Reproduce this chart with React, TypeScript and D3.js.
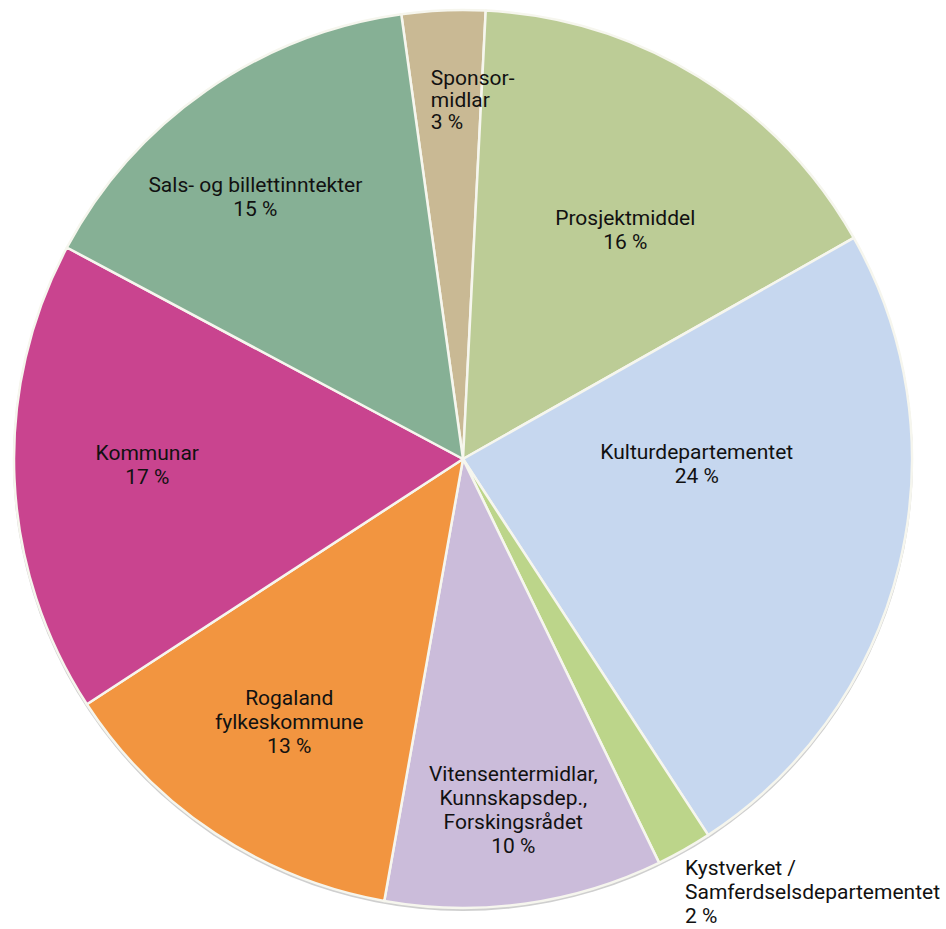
import React, { useEffect, useRef } from 'react';
import * as d3 from 'd3';

// slices in clockwise order, starting with the small one at the top
const labels = [
  'Sponsor-midlar',
  'Prosjektmiddel',
  'Kulturdepartementet',
  'Kystverket / Samferdselsdepartementet',
  'Vitensentermidlar, Kunnskapsdep., Forskingsrådet',
  'Rogaland fylkeskommune',
  'Kommunar',
  'Sals- og billettinntekter',
];
const values = [3, 16, 24, 2, 10, 13, 17, 15];
const colors = ['#c9b994', '#bccc96', '#c6d7ef', '#bcd58a', '#cbbcda', '#f29540', '#c9448f', '#86b095'];

// how each label is broken into lines
const labelLines = [
  ['Sponsor-', 'midlar'],
  ['Prosjektmiddel'],
  ['Kulturdepartementet'],
  ['Kystverket /', 'Samferdselsdepartementet'],
  ['Vitensentermidlar,', 'Kunnskapsdep.,', 'Forskingsrådet'],
  ['Rogaland', 'fylkeskommune'],
  ['Kommunar'],
  ['Sals- og billettinntekter'],
];

export default function App() {
  const svgRef = useRef<SVGSVGElement>(null);

  useEffect(() => {
    const width = 946;
    const height = 929;
    const cx = 463;
    const cy = 459;
    const radius = 449;
    const startDeg = -7.9;

    const svg = d3.select(svgRef.current).attr('width', width).attr('height', height);
    svg.selectAll('*').remove();

    const g = svg.append('g').attr('transform', `translate(${cx},${cy})`);

    // soft grey rim under the pie
    g.append('circle')
      .attr('cx', 0)
      .attr('cy', 2)
      .attr('r', radius + 1)
      .attr('fill', '#cfcfcf');

    const pie = d3.pie<number>()
      .sort(null)
      .value((d) => d)
      .startAngle((startDeg * Math.PI) / 180)
      .endAngle(((startDeg + 360) * Math.PI) / 180);

    const arcs = pie(values);
    const arc = d3.arc<d3.PieArcDatum<number>>().innerRadius(0).outerRadius(radius);

    g.selectAll('path.slice')
      .data(arcs)
      .enter()
      .append('path')
      .attr('class', 'slice')
      .attr('d', arc)
      .attr('fill', (_, i) => colors[i])
      .attr('stroke', '#f6f6ee')
      .attr('stroke-width', 2.5)
      .attr('stroke-linejoin', 'round');

    // label placement: polar position (deg clockwise from top, radius) and anchor
    const place = [
      { a: 0.3, r: 353, anchor: 'start', dx: -34, lh: 22 },
      { a: 36, r: 276, anchor: 'middle', dx: 0, lh: 24 },
      { a: 92.7, r: 234, anchor: 'middle', dx: 0, lh: 24 },
      { a: 0, r: 0, anchor: 'start', dx: 0, lh: 24 },
      { a: 172, r: 361, anchor: 'middle', dx: 0, lh: 24 },
      { a: 212.9, r: 320, anchor: 'middle', dx: 0, lh: 24 },
      { a: 267.8, r: 316, anchor: 'middle', dx: 0, lh: 24 },
      { a: 321, r: 330, anchor: 'middle', dx: 0, lh: 24 },
    ];

    arcs.forEach((d, i) => {
      const lines = [...labelLines[i], `${values[i]} %`];
      const p = place[i];
      let x: number;
      let yc: number;
      if (i === 3) {
        // small slice: label sits outside the pie, below right
        x = 685 - cx;
        yc = 899 - cy - 1;
      } else {
        const ang = (p.a * Math.PI) / 180;
        x = Math.sin(ang) * p.r + p.dx;
        yc = -Math.cos(ang) * p.r;
      }
      const first = yc - ((lines.length - 1) * p.lh) / 2 + 1;
      const t = g.append('text')
        .attr('text-anchor', p.anchor)
        .attr('font-family', 'Roboto, "Noto Sans", sans-serif')
        .attr('font-size', '21px')
        .attr('fill', '#111');
      lines.forEach((ln, j) => {
        t.append('tspan')
          .attr('x', x)
          .attr('y', first + j * p.lh)
          .text(ln);
      });
    });
  }, []);

  return <svg ref={svgRef} style={{ position: 'absolute', left: 0, top: 0, background: '#fff' }} />;
}
